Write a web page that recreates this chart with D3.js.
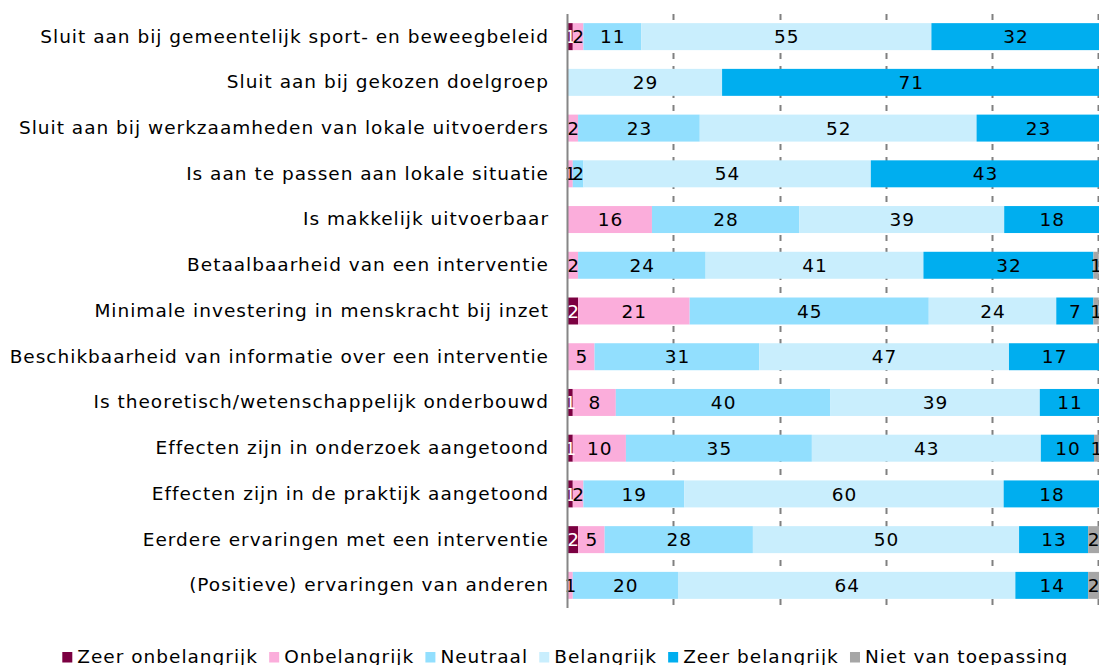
<!DOCTYPE html>
<html>
<head>
<meta charset="utf-8">
<script src="https://cdn.jsdelivr.net/npm/d3@7"></script>
<style>
  html, body { margin: 0; padding: 0; background: #fff; }
  svg { display: block; }
  text { font-family: "DejaVu Sans", sans-serif; }
</style>
</head>
<body>
<svg id="chart" width="1099" height="665"></svg>
<script>
const categories = [
  "Sluit aan bij gemeentelijk sport- en beweegbeleid",
  "Sluit aan bij gekozen doelgroep",
  "Sluit aan bij werkzaamheden van lokale uitvoerders",
  "Is aan te passen aan lokale situatie",
  "Is makkelijk uitvoerbaar",
  "Betaalbaarheid van een interventie",
  "Minimale investering in menskracht bij inzet",
  "Beschikbaarheid van informatie over een interventie",
  "Is theoretisch/wetenschappelijk onderbouwd",
  "Effecten zijn in onderzoek aangetoond",
  "Effecten zijn in de praktijk aangetoond",
  "Eerdere ervaringen met een interventie",
  "(Positieve) ervaringen van anderen"
];
const seriesNames = ["Zeer onbelangrijk", "Onbelangrijk", "Neutraal", "Belangrijk", "Zeer belangrijk", "Niet van toepassing"];
// percentages (labels show rounded values)
const zeerOnbelangrijk  = [0.9, 0,    0,    0,    0,    0,    1.9,  0,    0.9,  0.9,  0.9,  1.9,  0];
const onbelangrijk      = [2.0, 0,    1.9,  0.9,  15.8, 1.9,  21.0, 5.0,  8.1,  10.0, 2.0,  5.0,  0.9];
const neutraal          = [10.9, 0,   22.9, 2.0,  27.7, 24.0, 45.0, 31.0, 40.4, 35.0, 19.0, 27.9, 19.8];
const belangrijk        = [54.6, 29.0, 52.1, 54.1, 38.6, 41.0, 24.0, 47.0, 39.4, 43.1, 60.1, 50.1, 63.5];
const zeerBelangrijk    = [31.7, 71.0, 23.1, 43.0, 17.9, 32.0, 7.0,  17.0, 11.2, 10.0, 18.0, 13.0, 13.7];
const nietVanToepassing = [0,    0,    0,    0,    0,    1.0,  1.0,  0,    0,    1.0,  0,    2.1,  2.1];
const xTicks = [0, 20, 40, 60, 80, 100];

const seriesValues = [zeerOnbelangrijk, onbelangrijk, neutraal, belangrijk, zeerBelangrijk, nietVanToepassing];
const colors = ["#7B0041", "#FBADDB", "#92DFFE", "#C9EEFD", "#00AEEF", "#A6A6A6"];
const labelColors = ["#ffffff", "#000000", "#000000", "#000000", "#000000", "#000000"];

const svg = d3.select("#chart");
const W = 1099, H = 665;
const margin = {left: 568, right: 0, top: 14, bottom: 57};
const FS = 18.5, LS = 1.0;

const x = d3.scaleLinear().domain([0, 100]).range([margin.left, margin.left + 531.3]);
const y = d3.scaleBand().domain(categories).range([margin.top, H - margin.bottom]).paddingInner(0.41).paddingOuter(0.2);

// gridlines
svg.append("g").selectAll("line").data(xTicks.filter(d => d > 0)).join("line")
  .attr("x1", d => Math.round(x(d)) - 0.5).attr("x2", d => Math.round(x(d)) - 0.5)
  .attr("y1", margin.top).attr("y2", H - margin.bottom)
  .attr("stroke", "#808080").attr("stroke-width", 2).attr("stroke-dasharray", "6,7");

// stacked data
const rows = categories.map((c, i) => {
  let acc = 0;
  return seriesValues.map((s, k) => {
    const v = s[i];
    const seg = {cat: c, k, v, x0: acc, x1: acc + v};
    acc += v;
    return seg;
  });
});

const g = svg.append("g");
rows.forEach(row => {
  g.selectAll(null).data(row.filter(d => d.v > 0)).join("rect")
    .attr("x", d => x(d.x0)).attr("width", d => x(d.x1) - x(d.x0))
    .attr("y", d => y(d.cat)).attr("height", y.bandwidth())
    .attr("fill", d => colors[d.k]);
});
rows.forEach(row => {
  g.selectAll(null).data(row.filter(d => d.v > 0)).join("text")
    .attr("x", d => (x(d.x0) + x(d.x1)) / 2 + LS / 2)
    .attr("y", d => y(d.cat) + y.bandwidth() / 2)
    .attr("dy", "0.36em")
    .attr("text-anchor", "middle")
    .attr("font-size", FS)
    .attr("letter-spacing", LS)
    .attr("fill", d => labelColors[d.k])
    .text(d => Math.round(d.v));
});

// y axis line
svg.append("line").attr("x1", margin.left - 0.5).attr("x2", margin.left - 0.5)
  .attr("y1", margin.top).attr("y2", H - margin.bottom)
  .attr("stroke", "#868686").attr("stroke-width", 2);

// category labels
const yAxis = d3.axisLeft(y).tickSize(0).tickPadding(19);
const ya = svg.append("g").attr("transform", `translate(${margin.left},0)`).call(yAxis);
ya.select(".domain").remove();
ya.selectAll("text").attr("font-size", FS).attr("letter-spacing", LS).attr("fill", "#000")
  .style("font-family", "DejaVu Sans, sans-serif");

// legend
const legend = svg.append("g");
const items = seriesNames.map((n, k) => ({n, k}));
const lg = legend.selectAll("g").data(items).join("g");
lg.append("rect").attr("width", 10).attr("height", 10.5).attr("y", -11).attr("fill", d => colors[d.k]);
lg.append("text").attr("x", 15).attr("y", 0).attr("font-size", FS).attr("letter-spacing", LS)
  .attr("fill", "#000").text(d => d.n);
const widths = [];
lg.each(function() { widths.push(this.getBBox().width); });
const gap = 10;
const total = d3.sum(widths) + gap * (widths.length - 1);
let cx = 62.3;
const scaleGap = (1068.3 - 62.3 - d3.sum(widths)) / (widths.length - 1);
lg.attr("transform", (d, i) => { const t = `translate(${cx},663)`; cx += widths[i] + scaleGap; return t; });
</script>
</body>
</html>
